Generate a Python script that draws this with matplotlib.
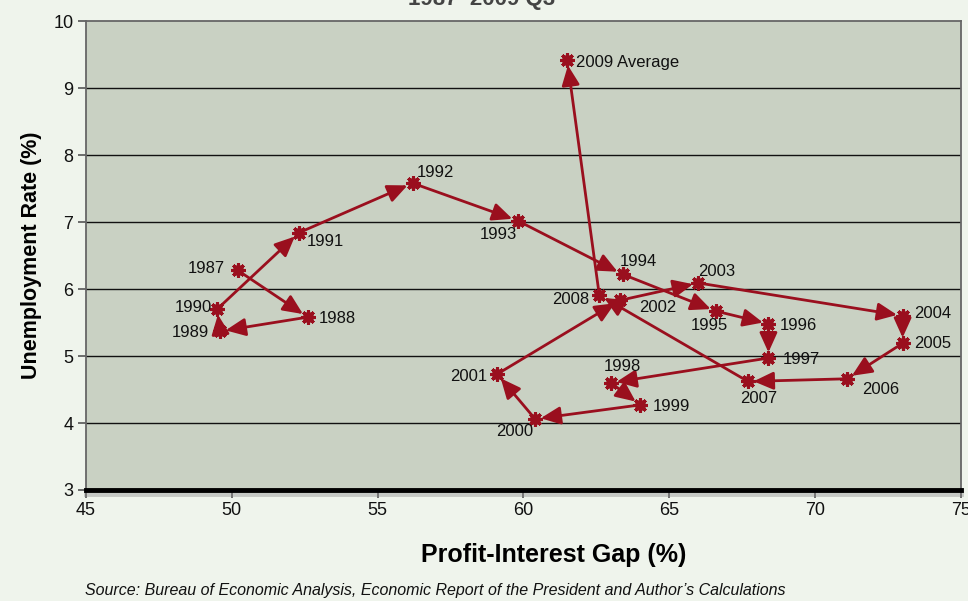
import matplotlib
matplotlib.use("Agg")
import matplotlib.pyplot as plt
import matplotlib.patheffects as pe

plt.rcParams["font.family"] = ["Liberation Sans", "DejaVu Sans"]

# --- data ------------------------------------------------------------------
years = ["1987", "1988", "1989", "1990", "1991", "1992", "1993", "1994",
         "1995", "1996", "1997", "1998", "1999", "2000", "2001", "2002",
         "2003", "2004", "2005", "2006", "2007", "2008", "2009 Average"]
gap = [50.2, 52.6, 49.6, 49.5, 52.3, 56.2, 59.8, 63.4,
       66.6, 68.4, 68.4, 63.0, 64.0, 60.4, 59.1, 63.3,
       66.0, 73.0, 73.0, 71.1, 67.7, 62.6, 61.5]
unemp = [6.28, 5.58, 5.37, 5.70, 6.84, 7.58, 7.02, 6.22,
         5.67, 5.48, 4.97, 4.60, 4.27, 4.06, 4.73, 5.83,
         6.09, 5.60, 5.19, 4.66, 4.62, 5.91, 9.42]
# label offsets in points (dx, dy) and horizontal alignment
label_pos = {
    "1987": (-9, 1, "right"), "1988": (8, -1, "left"),
    "1989": (-8, -1, "right"), "1990": (-4, 1, "right"),
    "1991": (6, -6, "left"), "1992": (3, 8, "left"),
    "1993": (-14, -10, "center"), "1994": (-2, 9, "left"),
    "1995": (-5, -10, "center"), "1996": (8, -1, "left"),
    "1997": (10, -1, "left"), "1998": (8, 12, "center"),
    "1999": (9, -1, "left"), "2000": (-15, -9, "center"),
    "2001": (-7, -2, "right"), "2002": (14, -5, "left"),
    "2003": (0, 8, "left"), "2004": (8, 2, "left"),
    "2005": (8, 0, "left"), "2006": (11, -8, "left"),
    "2007": (8, -12, "center"), "2008": (-7, -3, "right"),
    "2009 Average": (6, -2, "left"),
}
y_ticks = [3, 4, 5, 6, 7, 8, 9, 10]
x_ticks = [45, 50, 55, 60, 65, 70, 75]

red = "#9a0f1e"
fig_bg = "#eff4ec"
ax_bg = "#c9d1c3"

fig = plt.figure(figsize=(9.68, 6.01), dpi=100, facecolor=fig_bg)
ax = fig.add_axes([0.0888, 0.1847, 0.9039, 0.7803])
ax.set_facecolor(ax_bg)
ax.set_xlim(45, 75)
ax.set_ylim(3, 10)

for y in y_ticks[1:-1]:
    ax.axhline(y, color="#111111", lw=1.0, zorder=1)

# arrows between consecutive years
for i in range(len(gap) - 1):
    ax.annotate("", xy=(gap[i + 1], unemp[i + 1]), xytext=(gap[i], unemp[i]),
                arrowprops=dict(arrowstyle="-|>,head_length=1.0,head_width=0.45",
                                color=red, lw=2.0, shrinkA=0, shrinkB=4,
                                mutation_scale=12),
                zorder=3)

ax.plot(gap, unemp, ls="none", marker="o", ms=7, color=red, zorder=4)
ax.plot(gap, unemp, ls="none", marker=(8, 2, 0), ms=10.5, mew=2.2,
        color=red, zorder=4)

for name, x, y in zip(years, gap, unemp):
    dx, dy, ha = label_pos[name]
    ax.annotate(name, (x, y), xytext=(dx, dy), textcoords="offset points",
                ha=ha, va="center", fontsize=12, color="#111111", zorder=5)

ax.set_xticks(x_ticks)
ax.set_yticks(y_ticks)
ax.tick_params(axis="y", direction="out", length=6, width=1.2,
               colors="#555555", labelcolor="#111111", labelsize=13, pad=3)
ax.tick_params(axis="x", direction="out", length=6, width=1.2,
               colors="#555555", labelcolor="#111111", labelsize=13, pad=3)

for side in ["left", "right", "top"]:
    ax.spines[side].set_color("#666666")
    ax.spines[side].set_linewidth(1.3)
ax.spines["bottom"].set_color("#000000")
ax.spines["bottom"].set_linewidth(3.5)
ax.spines["bottom"].set_path_effects(
    [pe.SimpleLineShadow(offset=(0, -3), shadow_color="#888888", alpha=0.4),
     pe.Normal()])

ax.set_ylabel("Unemployment Rate (%)", fontsize=15.5, fontweight="bold")
ax.yaxis.set_label_coords(-0.05, 0.5)
ax.set_xlabel("Profit-Interest Gap (%)", fontsize=18, fontweight="bold")
ax.xaxis.set_label_coords(0.534, -0.112)

fig.text(0.497, 1.0, "1987–2009 Q3", ha="center", va="center",
         fontsize=16, fontweight="bold", color="#444444")
fig.text(0.088, 0.01, "Source: Bureau of Economic Analysis, Economic Report "
         "of the President and Author\u2019s Calculations",
         fontsize=11.5, style="italic", color="#111111")

fig.savefig("out.png", dpi=100, facecolor=fig_bg)
